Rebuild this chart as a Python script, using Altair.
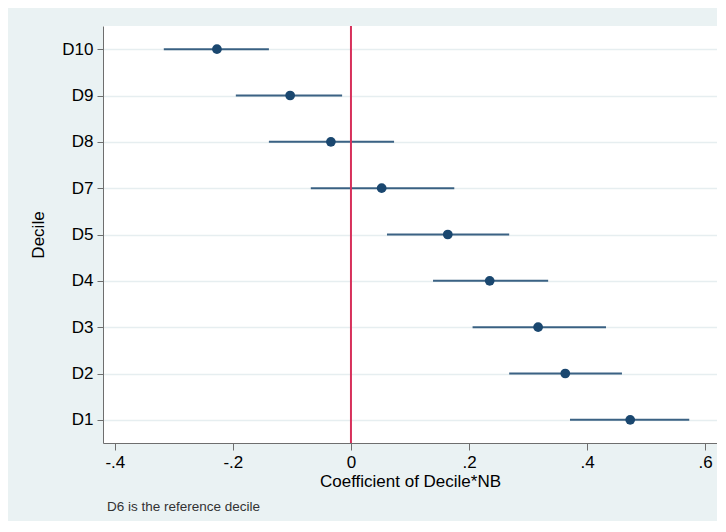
import altair as alt
import pandas as pd

deciles = ["D10", "D9", "D8", "D7", "D5", "D4", "D3", "D2", "D1"]
coef = [-0.227, -0.103, -0.034, 0.052, 0.164, 0.235, 0.317, 0.363, 0.473]
ci_low = [-0.317, -0.195, -0.139, -0.068, 0.061, 0.139, 0.206, 0.268, 0.371]
ci_high = [-0.139, -0.015, 0.073, 0.175, 0.268, 0.334, 0.432, 0.459, 0.573]
x_ticks = [-0.4, -0.2, 0, 0.2, 0.4, 0.6]
x_title = "Coefficient of Decile*NB"
y_title = "Decile"
note = ["D6 is the reference decile"]

df = pd.DataFrame({"decile": deciles, "coef": coef, "lo": ci_low, "hi": ci_high})

navy = "#1a476f"
font = "Liberation Sans"

x_scale = alt.Scale(domain=[-0.42, 0.62], nice=False, zero=False)
y_scale = alt.Scale(type="point", domain=deciles, padding=0.5)

x_axis = alt.Axis(
    values=x_ticks,
    labelExpr="datum.value == 0 ? '0' : (datum.value < 0 ? '-' : '') + replace(format(abs(datum.value), '.1f'), '0.', '.')",
    grid=False, domainColor="#6e6e6e", tickColor="#6e6e6e", tickSize=7,
    labelFontSize=17, labelFont=font, labelColor="#000000", labelPadding=4,
    title=x_title, titleFontSize=17, titleFont=font, titleFontWeight="normal",
    titleColor="#000000", titlePadding=3,
)
y_axis = alt.Axis(
    grid=True, gridColor="#e6eef0", gridWidth=1.5,
    domainColor="#6e6e6e", tickColor="#6e6e6e", tickSize=6,
    labelFontSize=17, labelFont=font, labelColor="#000000", labelPadding=4,
    title=y_title, titleFontSize=17, titleFont=font, titleFontWeight="normal",
    titleColor="#000000", titlePadding=14,
)

base = alt.Chart(df)

ci = base.mark_rule(color=navy, strokeWidth=2, opacity=0.85).encode(
    x=alt.X("lo:Q", scale=x_scale, axis=x_axis),
    x2="hi:Q",
    y=alt.Y("decile:N", scale=y_scale, axis=y_axis, sort=deciles),
)

pts = base.mark_point(filled=True, color=navy, size=95, opacity=1).encode(
    x=alt.X("coef:Q", scale=x_scale),
    y=alt.Y("decile:N", scale=y_scale, sort=deciles),
)

zero = alt.Chart(pd.DataFrame({"z": [0]})).mark_rule(color="#d7305b", strokeWidth=2).encode(
    x=alt.X("z:Q", scale=x_scale)
)

note_layer = alt.Chart(pd.DataFrame({"t": note})).mark_text(
    align="left", baseline="middle", fontSize=13.5, font=font, color="#333333"
).encode(text="t:N", x=alt.value(4), y=alt.value(481))

chart = alt.layer(ci, zero, pts, note_layer).properties(
    width=614, height=417,
    autosize=alt.AutoSizeParams(type="none"),
    padding={"left": 95, "top": 18, "right": 0, "bottom": 78},
    background="#eaf2f3",
).configure_view(stroke=None, fill="white")

chart.save("out.html", embed_options={"renderer": "svg", "actions": False})
